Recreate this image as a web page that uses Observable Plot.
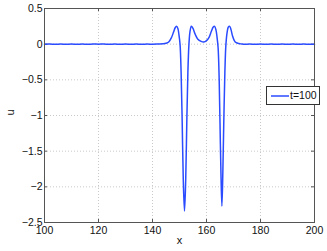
<!DOCTYPE html>
<html>
<head>
<meta charset="utf-8">
<script src="https://cdn.jsdelivr.net/npm/d3@7"></script>
<script src="https://cdn.jsdelivr.net/npm/@observablehq/plot@0.6"></script>
<style>
  body { margin: 0; background: #fff; }
  #wrap { position: relative; width: 327px; height: 251px; font-family: "Liberation Sans", Arial, sans-serif; }
  #legend { position: absolute; left: 266px; top: 86px; width: 52px; height: 17px; border: 1px solid #333; background: #fff; box-sizing: content-box; }
  #legend svg { position: absolute; left: 3px; top: 7px; }
  #legend .tx { position: absolute; left: 23px; top: 2px; font-size: 10.5px; color: #111; white-space: nowrap; }
</style>
</head>
<body>
<div id="wrap"></div>
<script>
const seriesName = "t=100";
const xTicks = [100, 120, 140, 160, 180, 200];
const yTicks = [-2.5, -2, -1.5, -1, -0.5, 0, 0.5];
const xs = [100, 102, 104, 106, 108, 110, 112, 114, 116, 118, 120, 122, 124, 126, 128, 130, 132, 134, 136, 138, 140, 142, 144,
  145, 146, 147, 147.8, 148.4, 148.9, 149.4, 149.8, 150.2, 150.6, 151.0, 151.4, 151.85, 152.3, 152.7, 153.1, 153.5, 153.9, 154.4, 155.0, 155.8, 156.8, 158, 159, 160, 161, 161.8, 162.5, 163.0, 163.5, 163.9, 164.3, 164.7, 165.0, 165.35, 165.7, 166.05, 166.4, 166.8, 167.2, 167.7, 168.1, 168.6, 169.1, 169.6, 170.3, 171, 172, 173,
  174, 176, 178, 180, 182, 184, 186, 188, 190, 192, 194, 196, 198, 200];
const us = [0.0, 0.002, -0.002, 0.002, -0.001, 0.002, -0.002, 0.001, -0.002, 0.002, 0.0, 0.002, -0.002, 0.001, -0.002, 0.002, -0.001, 0.002, -0.001, 0.001, 0.0, 0.002, 0.005,
  0.012, 0.03, 0.09, 0.17, 0.23, 0.25, 0.22, 0.13, 0.0, -0.4, -1.1, -1.9, -2.34, -1.9, -1.1, -0.4, 0.0, 0.18, 0.25, 0.22, 0.14, 0.07, 0.04, 0.03, 0.05, 0.1, 0.18, 0.24, 0.25, 0.2, 0.1, -0.05, -0.5, -1.1, -1.8, -2.27, -1.8, -1.1, -0.4, 0.0, 0.18, 0.24, 0.25, 0.2, 0.12, 0.05, 0.02, 0.008, 0.003,
  -0.001, 0.002, -0.002, 0.001, -0.002, 0.002, -0.002, 0.001, -0.001, 0.002, -0.001, 0.001, -0.002, 0.0];
const data = xs.map((x, i) => ({x, u: us[i]}));

const frameColor = "#555";
const lineColor = "#2a4bff";
const chart = Plot.plot({
  width: 327,
  height: 251,
  marginLeft: 44,
  marginRight: 13,
  marginTop: 8,
  marginBottom: 29,
  style: { fontFamily: "Liberation Sans, Arial, sans-serif", fontSize: "10.5px", color: "#111", background: "#fff" },
  x: { domain: [100, 200], ticks: xTicks },
  y: { domain: [-2.5, 0.5], ticks: yTicks },
  marks: [
    Plot.gridX(xTicks.slice(1, -1), { stroke: "#bbb", strokeOpacity: 1, strokeDasharray: "1,2", strokeWidth: 0.8 }),
    Plot.gridY(yTicks.slice(1, -1), { stroke: "#bbb", strokeOpacity: 1, strokeDasharray: "1,2", strokeWidth: 0.8 }),
    Plot.axisX(xTicks, { tickSize: 0, tickPadding: 4, label: null, tickFormat: d => String(d) }),
    Plot.axisY(yTicks, { tickSize: 0, tickPadding: 2, label: null, tickFormat: d => d3.format("")(d).replace("-", "\u2212") }),
    Plot.ruleX(xTicks, { x: d => d, y1: -2.5, y2: -2.5, insetTop: -3, stroke: frameColor }),
    Plot.ruleX(xTicks, { x: d => d, y1: 0.5, y2: 0.5, insetBottom: -3, stroke: frameColor }),
    Plot.ruleY(yTicks, { y: d => d, x1: 100, x2: 100, insetRight: -3, stroke: frameColor }),
    Plot.ruleY(yTicks, { y: d => d, x1: 200, x2: 200, insetLeft: -3, stroke: frameColor }),
    Plot.line(data, { x: "x", y: "u", stroke: lineColor, strokeWidth: 1.5, curve: "catmull-rom" }),
    Plot.frame({ stroke: frameColor }),
    Plot.text(["x"], { frameAnchor: "bottom", dy: 21, fontSize: 11 }),
    Plot.text(["u"], { frameAnchor: "left", dx: -34, rotate: -90, fontSize: 11 })
  ]
});
const wrap = document.getElementById("wrap");
wrap.appendChild(chart);
const lg = document.createElement("div");
lg.id = "legend";
lg.innerHTML = '<svg width="20" height="4"><line x1="1" y1="2" x2="19" y2="2" stroke="' + lineColor + '" stroke-width="1.5"/></svg><div class="tx"></div>';
lg.querySelector(".tx").textContent = seriesName;
wrap.appendChild(lg);
</script>
</body>
</html>
